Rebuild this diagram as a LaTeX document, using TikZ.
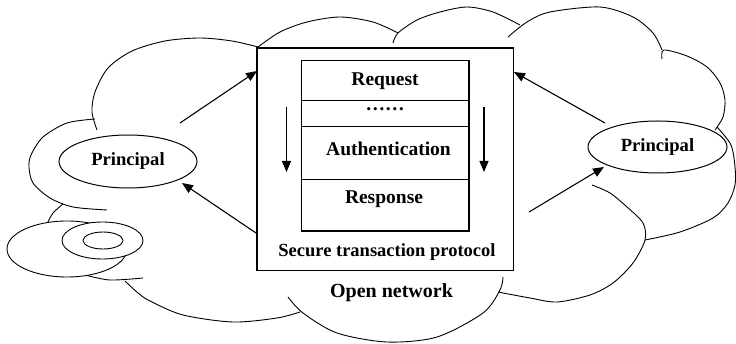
\documentclass[tikz,border=0pt]{standalone}
\usepackage{fontspec}
\setmainfont{Liberation Serif}
\usetikzlibrary{shapes.geometric,arrows.meta}
\begin{document}
\begin{tikzpicture}[x=1pt,y=-1pt,
  cloud/.style={line width=0.9pt},
  frame/.style={draw,line width=1.3pt,fill=white,inner sep=0pt},
  row/.style={draw,line width=1.1pt,minimum width=167.3pt,inner sep=0pt},
  lbl/.style={font=\bfseries\fontsize{19.5}{20}\selectfont,anchor=base,inner sep=0pt},
  arr/.style={-{Triangle[length=11pt,width=9pt]},line width=1.1pt},
  princ/.style={draw,ellipse,fill=white,line width=1pt,inner sep=0pt,font=\bfseries\fontsize{18.6}{19}\selectfont},
  disk/.style={draw,line width=0.9pt,fill=white}]
\useasboundingbox (0,0) rectangle (736,344);
% cloud outline arcs
\draw[cloud] plot[smooth] coordinates {(97,130) (92,112) (95,92) (108,68) (132,51) (165,41) (200,38) (232,41) (258,47)};
\draw[cloud] plot[smooth] coordinates {(95,119) (67,123) (43,137) (31,155) (29,167) (33,183) (50,198) (73,207) (107,210)};
\draw[cloud] plot[smooth] coordinates {(48,222) (53,213) (63,204)};
\draw[cloud] plot[smooth] coordinates {(85,275) (110,280) (143,278)};
\draw[cloud] plot[smooth] coordinates {(125,281) (138,293) (150,301) (183,315) (233,322) (277,318) (300,312)};
\draw[cloud] plot[smooth] coordinates {(288,297) (303,313) (337,333) (387,342) (437,337) (483,313) (500,290) (503,277)};
\draw[cloud] plot[smooth] coordinates {(498,292) (530,298) (557,302) (590,295) (613,283) (633,263) (645,240) (643,223) (627,207) (610,193) (592,185)};
\draw[cloud] plot[smooth] coordinates {(645,240) (680,232) (713,218) (728,203) (735,185) (735,167) (731,145) (717,127)};
\draw[cloud] plot[smooth] coordinates {(662,59) (664,50) (687,56) (707,67) (720,83) (725,100) (723,117) (715,130)};
\draw[cloud] plot[smooth] coordinates {(508,37) (527,22) (550,12) (600,7) (633,17) (653,33) (662,50)};
\draw[cloud] plot[smooth] coordinates {(393,43) (398,33) (417,20) (440,12) (467,7) (493,12) (520,25)};
\draw[cloud] plot[smooth] coordinates {(258,47) (280,32) (307,22) (340,17) (373,22) (398,33)};
% disk
\draw[disk] (67,249) ellipse [x radius=60pt, y radius=28pt];
\draw[disk] (102.5,240.5) ellipse [x radius=40.5pt, y radius=18.5pt];
\draw[disk] (103,240.5) ellipse [x radius=20pt, y radius=8.5pt];
% principals
\node[princ,minimum width=138pt,minimum height=53pt] (pl) at (128,161.5) {Principal};
\node[princ,minimum width=139pt,minimum height=52pt] (pr) at (657.5,147) {Principal};
% main box
\node[frame,minimum width=256.7pt,minimum height=222.5pt] (box) at (385.35,159.25) {};
\node[row,minimum height=40pt] (rreq) at (385.35,80.7) {};
\node[row,minimum height=26pt] (rdots) at (385.35,113.7) {};
\node[row,minimum height=52.6pt] (rauth) at (385.35,153) {};
\node[row,minimum height=51.7pt] (rresp) at (385.35,205.15) {};
\node[lbl] (treq) at (385,86) {Request};
\node[lbl] (tdots) at (385,111) {……};
\node[lbl] (tauth) at (388.5,156) {Authentication};
\node[lbl] (tresp) at (384,204) {Response};
\node[lbl,font=\bfseries\fontsize{18.5}{19}\selectfont] (tstp) at (387,256.5) {Secure transaction protocol};
\node[lbl,font=\bfseries\fontsize{20}{21}\selectfont] (topen) at (391.5,297.5) {Open network};
% down arrows
\coordinate (dl1) at (286.5,107); \coordinate (dl2) at (286.5,172);
\coordinate (dr1) at (484,107); \coordinate (dr2) at (484,172);
\draw[arr] (dl1) -- (dl2);
\draw[arr] (dr1) -- (dr2);
% arrows between principals and box
\coordinate (a1s) at (180,123); \coordinate (a1e) at (257,71);
\coordinate (a2s) at (256,233); \coordinate (a2e) at (182,183);
\coordinate (a3s) at (605,123); \coordinate (a3e) at (514,72);
\coordinate (a4s) at (529,212); \coordinate (a4e) at (604,167);
\draw[arr] (a1s) -- (a1e);
\draw[arr] (a2s) -- (a2e);
\draw[arr] (a3s) -- (a3e);
\draw[arr] (a4s) -- (a4e);
\end{tikzpicture}
\end{document}
